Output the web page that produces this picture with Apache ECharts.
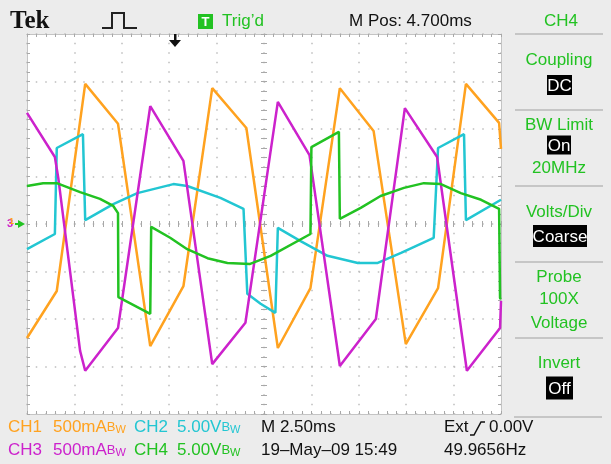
<!DOCTYPE html>
<html>
<head>
<meta charset="utf-8">
<script src="https://cdn.jsdelivr.net/npm/echarts@6/dist/echarts.min.js"></script>
<style>
  html, body { margin: 0; padding: 0; background: #ececec; }
  #main { width: 611px; height: 464px; }
</style>
</head>
<body>
<div id="main"></div>
<script>
// time in ms relative to screen centre (2.50 ms/div), amplitude in divisions
const ch1Time = [-12.5, -10.93, -9.43, -7.70, -6.00, -4.25, -2.73, -0.93, 0.73, 2.45, 4.00, 5.78, 7.48, 9.18, 10.65, 12.40, 12.5]
const ch1Div  = [-2.40, -1.41, 2.95, 2.11, -2.57, -1.31, 2.86, 2.02, -2.61, -1.35, 2.86, 1.96, -2.53, -1.35, 2.95, 2.13, 1.58]

const ch2Time = [-12.5, -11.03, -10.93, -9.55, -9.50, -9.43, -7.95, -6.68, -4.78, -4.05, -2.30, -1.08, -0.88, -0.18, 0.60, 0.73, 1.93, 3.35, 4.95, 6.00, 7.23, 8.95, 9.18, 10.55, 10.65, 12.5]
const ch2Div  = [-0.53, -0.21, 1.60, 1.89, 1.89, 0.08, 0.42, 0.65, 0.84, 0.80, 0.55, 0.32, -1.47, -1.68, -1.87, -0.08, -0.36, -0.67, -0.82, -0.82, -0.61, -0.29, 1.60, 1.89, 0.08, 0.51]

const ch3Time = [-12.5, -11.03, -10.85, -9.70, -9.43, -7.70, -6.00, -4.25, -2.73, -0.98, 0.73, 2.40, 4.00, 5.90, 7.43, 9.13, 10.70, 12.45, 12.5]
const ch3Div  = [2.34, 1.41, 0.97, -2.67, -3.09, -2.19, 2.48, 1.33, -2.95, -2.08, 2.57, 1.45, -2.99, -2.00, 2.44, 1.41, -3.09, -2.19, -1.62]

const ch4Time = [-12.5, -11.65, -10.93, -9.70, -8.65, -7.95, -7.70, -7.68, -6.00, -5.95, -4.95, -4.05, -2.98, -1.93, -0.73, 0.35, 2.45, 2.50, 3.95, 4.00, 5.10, 6.15, 7.38, 8.43, 9.33, 10.38, 11.45, 12.40, 12.45, 12.5]
const ch4Div  = [0.80, 0.86, 0.86, 0.67, 0.53, 0.38, 0.23, -1.54, -1.89, -0.06, -0.29, -0.53, -0.72, -0.82, -0.84, -0.67, -0.21, 1.62, 1.94, 0.11, 0.34, 0.59, 0.76, 0.86, 0.84, 0.65, 0.51, 0.32, -1.56, -1.58]

const channelNames = ['CH1', 'CH2', 'CH3', 'CH4']
const channelColors = ['#ffa21f', '#22c6d2', '#cc22cc', '#22c222']

const FONT = '"Liberation Sans", "DejaVu Sans", sans-serif'
const GREEN = '#22c222'

const zip = (t, v) => t.map((x, i) => [x, v[i]])

const dots = {
  show: true,
  lineStyle: { color: '#bdbdbd', width: 1.5, type: [1.5, 8], dashOffset: 0.75 }
}

// graticule edge / centre axes
function xAx(position, onZero, inside, split) {
  return {
    type: 'value', min: -12.5, max: 12.5, interval: 2.5, position,
    axisLine: { show: !onZero, onZero, lineStyle: { color: '#c4c4c4', width: 1 } },
    axisTick: { show: true, inside, length: 3, lineStyle: { color: '#a8a8a8' } },
    minorTick: { show: true, splitNumber: 5, length: 3, lineStyle: { color: '#a8a8a8' } },
    axisLabel: { show: false },
    splitLine: split ? dots : { show: false }
  }
}
function yAx(position, onZero, inside, split) {
  return {
    type: 'value', min: -4, max: 4, interval: 1, position,
    axisLine: { show: !onZero, onZero, lineStyle: { color: '#c4c4c4', width: 1 } },
    axisTick: { show: true, inside, length: 3, lineStyle: { color: '#a8a8a8' } },
    minorTick: { show: true, splitNumber: 5, length: 3, lineStyle: { color: '#a8a8a8' } },
    axisLabel: { show: false },
    splitLine: split ? dots : { show: false }
  }
}

function txt(x, y, text, fill, extra = {}) {
  return {
    type: 'text', x, y, z: 10,
    style: Object.assign({ text, fill, font: '17px ' + FONT, verticalAlign: 'middle', align: 'left' }, extra)
  }
}
function boxTxt(cx, cy, w, h, text) {
  return [
    { type: 'rect', z: 10, shape: { x: cx - w / 2, y: cy - h / 2, width: w, height: h }, style: { fill: '#000' } },
    txt(cx, cy + 1, text, '#fff', { align: 'center' })
  ]
}
function sep(y, x1 = 515, x2 = 603) {
  return { type: 'line', z: 10, shape: { x1, y1: y, x2, y2: y }, style: { stroke: '#c6c6c6', lineWidth: 2 } }
}
const bw = (s, color) => txt(0, 0, s + '{b|B}{w|W}', color, {
  rich: {
    b: { fontSize: 13, fontFamily: FONT, fill: color, verticalAlign: 'middle' },
    w: { fontSize: 11, fontFamily: FONT, fill: color, verticalAlign: 'bottom', padding: [4, 0, 0, 0] }
  }
})
const at = (el, x, y) => Object.assign(el, { x, y })

const graphic = [
  // header
  txt(10, 22, 'Tek', '#111', { font: 'bold 25px "Liberation Serif", "DejaVu Serif", serif' }),
  { type: 'polyline', z: 10, shape: { points: [[102, 28], [112, 28], [112, 13], [124, 13], [124, 28], [137, 28]] }, style: { stroke: '#222', lineWidth: 2, fill: null } },
  { type: 'rect', z: 10, shape: { x: 198, y: 14, width: 15, height: 15 }, style: { fill: GREEN } },
  txt(205.5, 22, 'T', '#fff', { align: 'center', font: 'bold 13px ' + FONT }),
  txt(222, 21, 'Trig\u2019d', GREEN),
  txt(349, 21, 'M Pos: 4.700ms', '#111'),
  txt(544, 21, 'CH4', GREEN),
  // trigger position marker
  { type: 'polygon', z: 10, shape: { points: [[169, 40], [181, 40], [175, 47]] }, style: { fill: '#111' } },
  { type: 'rect', z: 10, shape: { x: 174, y: 34, width: 2.5, height: 8 }, style: { fill: '#111' } },
  // ground marker on the left
  txt(7, 224, '3', '#cc22cc', { font: 'bold 11px ' + FONT }),
  txt(9, 222, '1', '#ffa21f', { font: 'bold 9px ' + FONT }),
  { type: 'polygon', z: 10, shape: { points: [[18, 220], [25, 224], [18, 228]] }, style: { fill: GREEN } },
  { type: 'rect', z: 10, shape: { x: 15, y: 223, width: 5, height: 2 }, style: { fill: GREEN } },
  // right menu
  sep(34),
  txt(559, 60, 'Coupling', GREEN, { align: 'center' }),
  ...boxTxt(559.5, 85, 25, 20, 'DC'),
  sep(110),
  txt(559, 125, 'BW Limit', GREEN, { align: 'center' }),
  ...boxTxt(559, 145, 24, 19, 'On'),
  txt(559, 168, '20MHz', GREEN, { align: 'center' }),
  sep(186),
  txt(559, 212, 'Volts/Div', GREEN, { align: 'center' }),
  ...boxTxt(560, 236, 54, 22, 'Coarse'),
  sep(262),
  txt(559, 277, 'Probe', GREEN, { align: 'center' }),
  txt(559, 299, '100X', GREEN, { align: 'center' }),
  txt(559, 323, 'Voltage', GREEN, { align: 'center' }),
  sep(338),
  txt(559, 363, 'Invert', GREEN, { align: 'center' }),
  ...boxTxt(559.5, 388, 27, 23, 'Off'),
  sep(417, 514, 602),
  // footer
  txt(8, 427, 'CH1', channelColors[0]),
  at(bw('500mA', channelColors[0]), 53, 427),
  txt(134, 427, 'CH2', channelColors[1]),
  at(bw('5.00V', channelColors[1]), 177, 427),
  txt(261, 427, 'M 2.50ms', '#111'),
  txt(444, 427, 'Ext', '#111'),
  { type: 'polyline', z: 10, shape: { points: [[470, 435], [474, 435], [481, 422], [485, 422]] }, style: { stroke: '#111', lineWidth: 1.5, fill: null } },
  txt(489, 427, '0.00V', '#111'),
  txt(8, 450, 'CH3', channelColors[2]),
  at(bw('500mA', channelColors[2]), 53, 450),
  txt(134, 450, 'CH4', channelColors[3]),
  at(bw('5.00V', channelColors[3]), 177, 450),
  txt(261, 450, '19\u2013May\u201309 15:49', '#111'),
  txt(444, 450, '49.9656Hz', '#111')
]

const chart = echarts.init(document.getElementById('main'))
chart.setOption({
  animation: false,
  backgroundColor: '#ececec',
  grid: { left: 27, top: 34, width: 474, height: 380, show: true, backgroundColor: '#fff', borderWidth: 0 },
  xAxis: [
    xAx('bottom', false, true, true),
    xAx('top', false, true, false),
    xAx('bottom', true, false, false),
    xAx('top', true, false, false)
  ],
  yAxis: [
    yAx('left', false, true, true),
    yAx('right', false, true, false),
    yAx('left', true, false, false),
    yAx('right', true, false, false)
  ],
  series: [
    [ch1Time, ch1Div], [ch2Time, ch2Div], [ch3Time, ch3Div], [ch4Time, ch4Div]
  ].map(([t, v], i) => ({
    name: channelNames[i],
    type: 'line',
    data: zip(t, v),
    showSymbol: false,
    lineStyle: { color: channelColors[i], width: 2.5 },
    z: 3
  })),
  graphic
})
</script>
</body>
</html>
